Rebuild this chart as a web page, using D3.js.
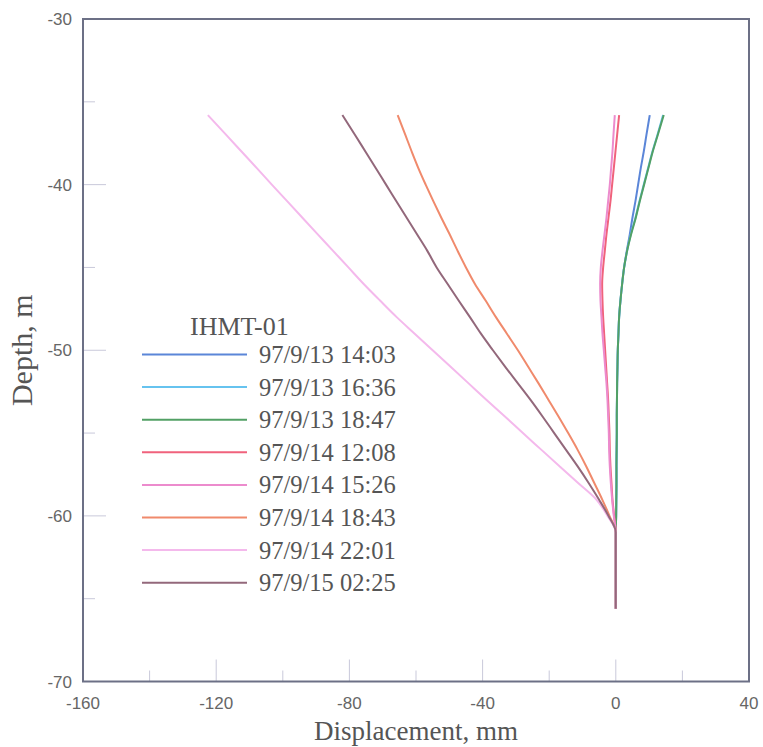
<!DOCTYPE html>
<html>
<head>
<meta charset="utf-8">
<script src="https://cdn.jsdelivr.net/npm/d3@7"></script>
<style>
  body { margin: 0; background: #fff; }
</style>
</head>
<body>
<svg id="chart" width="763" height="747"></svg>
<script>

var depth = [-35.8, -37, -38, -39, -40, -41, -42, -43, -44, -45, -46, -47, -48, -49, -50,
             -51, -52, -53, -54, -55, -56, -57, -58, -59, -60, -61, -62, -63, -64, -65, -65.6]

var s1403 = [10.2, 9.2, 8.4, 7.5, 6.7, 5.9, 5.0, 4.2, 3.3, 2.5, 1.9, 1.4, 1.0, 0.8, 0.6,
             0.5, 0.4, 0.35, 0.3, 0.3, 0.25, 0.2, 0.2, 0.15, 0.1, 0, 0, 0, 0, 0, 0]
var s1636 = [14.2, 12.5, 11.0, 9.7, 8.4, 7.1, 5.9, 4.5, 3.4, 2.5, 1.9, 1.4, 1.0, 0.8, 0.6,
             0.5, 0.4, 0.35, 0.3, 0.3, 0.25, 0.2, 0.2, 0.15, 0.1, 0, 0, 0, 0, 0, 0]
var s1847 = [14.4, 12.6, 11.1, 9.8, 8.5, 7.2, 6.0, 4.6, 3.4, 2.5, 1.9, 1.4, 1.0, 0.8, 0.6,
             0.5, 0.4, 0.35, 0.3, 0.3, 0.25, 0.2, 0.2, 0.15, 0.1, 0, 0, 0, 0, 0, 0]
var s1208 = [1.0, 0.4, -0.1, -0.6, -1.1, -1.6, -2.2, -2.8, -3.3, -3.8, -4.1, -4.0, -3.8, -3.5, -3.2,
             -2.9, -2.6, -2.3, -2.1, -1.9, -1.8, -1.6, -1.3, -1.0, -0.5, 0, 0, 0, 0, 0, 0]
var s1526 = [-0.3, -0.7, -1.0, -1.4, -1.8, -2.3, -2.8, -3.4, -4.0, -4.5, -4.7, -4.6, -4.3, -4.0, -3.6,
             -3.2, -2.8, -2.5, -2.3, -2.1, -2.0, -1.8, -1.5, -1.1, -0.6, 0, 0, 0, 0, 0, 0]
var s1843 = [-65.5, -63.2, -61.3, -59.3, -57.1, -54.8, -52.4, -49.9, -47.5, -45.0, -42.3, -39.1, -36.0, -32.7, -29.4,
             -26.3, -23.2, -20.2, -17.2, -14.3, -11.5, -8.9, -6.5, -4.1, -1.9, 0, 0, 0, 0, 0, 0]
var s2201 = [-122.5, -117.0, -112.4, -107.8, -103.3, -98.7, -94.1, -89.5, -84.9, -80.3, -75.7, -70.8, -65.8, -60.4, -55.0,
             -49.6, -44.2, -38.8, -33.3, -27.9, -22.4, -16.9, -11.4, -5.9, -2.5, 0, 0, 0, 0, 0, 0]
var s0225 = [-82.1, -78.3, -75.2, -72.1, -69.0, -65.9, -62.8, -59.7, -56.6, -53.8, -50.5, -47.2, -43.8, -40.5, -36.9,
             -33.2, -29.4, -25.6, -22.0, -18.5, -15.0, -11.5, -8.2, -5.1, -2.2, 0, 0, 0, 0, 0, 0]

var names = ["97/9/13 14:03", "97/9/13 16:36", "97/9/13 18:47", "97/9/14 12:08",
             "97/9/14 15:26", "97/9/14 18:43", "97/9/14 22:01", "97/9/15 02:25"]
var colors = ["#5b86d8", "#66c3ef", "#52a065", "#f0627c", "#ec8bcd", "#f08a6c", "#f4b9ec", "#93687b"]
var seriesVals = [s1403, s1636, s1847, s1208, s1526, s1843, s2201, s0225]

var xTicks = [-160, -120, -80, -40, 0, 40]
var xMinor = [-140, -100, -60, -20, 20]
var yTicks = [-30, -40, -50, -60, -70]
var yMinor = [-35, -45, -55, -65]

var margin = {left: 83, top: 19, right: 14, bottom: 65.5}
var W = 763, H = 747
var w = W - margin.left - margin.right
var h = H - margin.top - margin.bottom

var svg = d3.select("#chart")
var g = svg.append("g").attr("transform", "translate(" + margin.left + "," + margin.top + ")")

var x = d3.scaleLinear().domain([-160, 40]).range([0, w])
var y = d3.scaleLinear().domain([-30, -70]).range([0, h])

// inward ticks, light
var tickCol = "#c9c9da"
g.selectAll(".xmaj").data(xTicks.slice(1, -1)).join("line")
    .attr("x1", d => x(d)).attr("x2", d => x(d))
    .attr("y1", h).attr("y2", h - 22)
    .attr("stroke", tickCol).attr("stroke-width", 1)
g.selectAll(".xmin").data(xMinor).join("line")
    .attr("x1", d => x(d)).attr("x2", d => x(d))
    .attr("y1", h).attr("y2", h - 11)
    .attr("stroke", tickCol).attr("stroke-width", 1)
g.selectAll(".ymaj").data(yTicks.slice(1, -1)).join("line")
    .attr("y1", d => y(d)).attr("y2", d => y(d))
    .attr("x1", 0).attr("x2", 23)
    .attr("stroke", tickCol).attr("stroke-width", 1)
g.selectAll(".ymin").data(yMinor).join("line")
    .attr("y1", d => y(d)).attr("y2", d => y(d))
    .attr("x1", 0).attr("x2", 12)
    .attr("stroke", tickCol).attr("stroke-width", 1)

// tick labels
g.selectAll(".xl").data(xTicks).join("text")
    .attr("x", d => x(d)).attr("y", h + 27)
    .attr("text-anchor", "middle")
    .attr("font-family", "Liberation Sans, Arial, sans-serif")
    .attr("font-size", 17).attr("fill", "#666")
    .text(d => d)
g.selectAll(".yl").data(yTicks).join("text")
    .attr("x", -11).attr("y", d => y(d) + 6)
    .attr("text-anchor", "end")
    .attr("font-family", "Liberation Sans, Arial, sans-serif")
    .attr("font-size", 17).attr("fill", "#666")
    .text(d => d)

// curves
var line = d3.line()
    .x(d => x(d[0]))
    .y(d => y(d[1]))
    .curve(d3.curveMonotoneY)

seriesVals.forEach(function(vals, i) {
    g.append("path")
        .datum(vals.map((v, j) => [v, depth[j]]))
        .attr("d", line)
        .attr("fill", "none")
        .attr("stroke", colors[i])
        .attr("stroke-width", 2)
})

// frame
g.append("rect")
    .attr("x", 0).attr("y", 0).attr("width", w).attr("height", h)
    .attr("fill", "none").attr("stroke", "#6c7086").attr("stroke-width", 2)

// axis titles
svg.append("text")
    .attr("x", margin.left + w / 2).attr("y", 740)
    .attr("text-anchor", "middle")
    .attr("font-family", "Liberation Serif, Times New Roman, serif")
    .attr("font-size", 27).attr("fill", "#555")
    .text("Displacement, mm")
svg.append("text")
    .attr("transform", "translate(32," + (margin.top + y(-50)) + ") rotate(-90)")
    .attr("text-anchor", "middle")
    .attr("font-family", "Liberation Serif, Times New Roman, serif")
    .attr("font-size", 30).attr("fill", "#555")
    .text("Depth, m")

// legend
var leg = svg.append("g")
leg.append("text")
    .attr("x", 190).attr("y", 335)
    .attr("font-family", "Liberation Serif, Times New Roman, serif")
    .attr("font-size", 26).attr("fill", "#555")
    .text("IHMT-01")

var rows = leg.selectAll(".row").data(names).join("g")
    .attr("transform", (d, i) => "translate(0," + (354.5 + i * 32.6) + ")")
rows.append("line")
    .attr("x1", 142).attr("x2", 247)
    .attr("stroke", (d, i) => colors[i]).attr("stroke-width", 2)
rows.append("text")
    .attr("x", 259).attr("y", 8.5)
    .attr("font-family", "Liberation Serif, Times New Roman, serif")
    .attr("font-size", 24.5).attr("fill", "#555")
    .text(d => d)

</script>
</body>
</html>
